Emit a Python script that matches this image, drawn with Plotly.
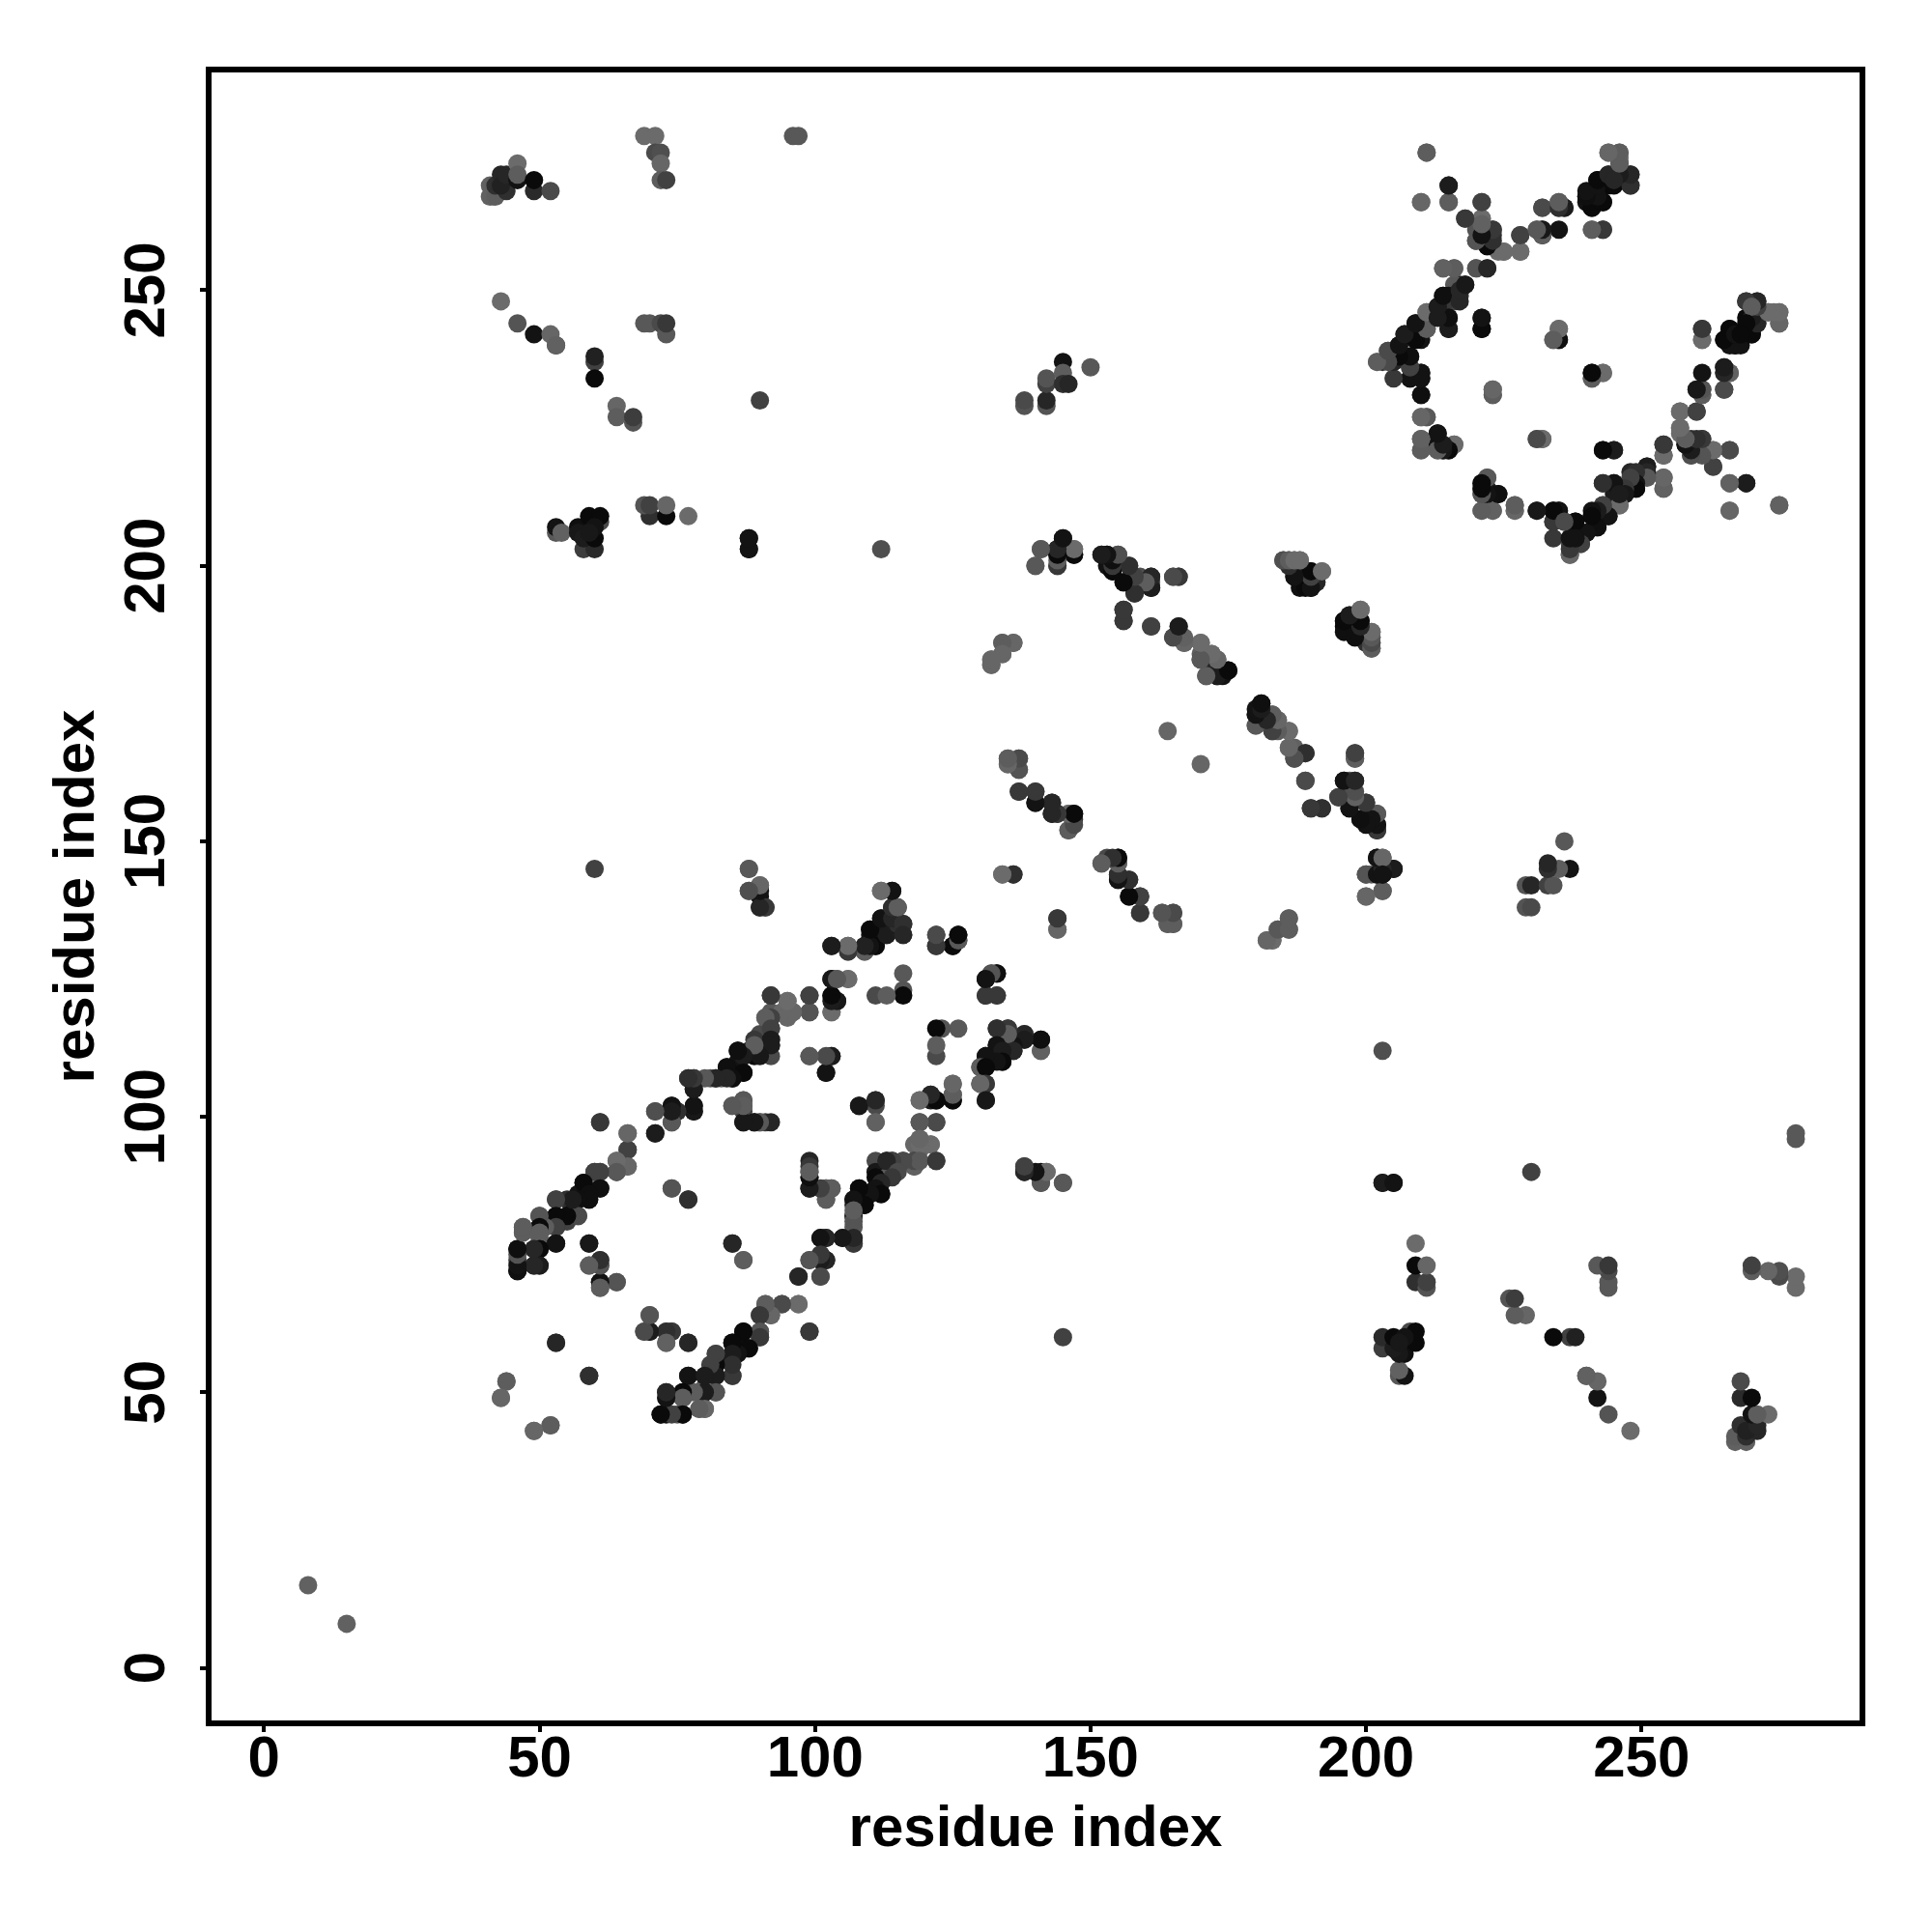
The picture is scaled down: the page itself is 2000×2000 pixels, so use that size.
import plotly.graph_objects as go

# Upper-triangle contacts (residue a, residue b, grey level of the dot); the map is symmetric.
res_a = [
 69,71,96,97,71,72,72,72,73,
 41,41,42,42,43,44,43,44,46,46,46,49,49,52,
 43,46,49,53,52,53,69,70,72,73,73,
 60,60,60,64,64,67,67,90,
 70,69,70,73,73,77,53,53,54,
 58,60,57,57,58,60,59,61,61,60,59,88,88,112,
 8,
]
res_b = [
 278,278,278,278,275,275,273,270,270,
 269,267,267,269,271,268,269,271,273,270,271,268,270,268,
 248,244,242,240,242,240,244,244,244,242,244,
 237,238,234,229,227,226,227,230,
 209,211,211,209,211,209,206,207,206,
 203,203,207,206,205,205,209,208,209,207,206,203,205,203,
 15,
]
grey = [
 105,105,85,85,70,75,100,90,60,
 95,95,90,40,30,40,25,30,105,10,90,35,0,70,
 105,80,10,40,100,95,85,85,70,85,50,
 60,25,0,100,90,80,55,60,
 40,80,60,0,100,105,85,10,95,
 55,35,5,15,20,0,0,70,0,10,15,20,10,75,
 95,
]

# Middle block
res_a += [
 141,140,144,145,144,144,145,147,147,144,
 152,153,155,154,153,154,157,156,158,159,158,161,161,161,165,166,
 156,156,161,166,165,167,170,170,170,172,173,171,172,173,174,174,175,
 185,186,187,188,187,188,189,190,190,191,192,
 197,196,196,198,199,199,198,200,201,201,201,201,
]
res_b += [
 203,200,200,205,202,203,203,202,203,203,
 202,202,202,201,200,199,200,197,198,198,195,197,196,198,198,198,
 192,190,189,189,187,186,186,184,183,184,183,180,182,180,180,181,181,
 201,201,201,201,198,196,199,196,199,197,199,
 191,189,190,190,190,192,187,186,185,186,187,188,
]
grey += [
 90,100,80,20,10,10,30,10,100,10,
 50,10,85,10,10,5,50,10,95,75,60,80,10,30,90,60,
 40,50,70,40,75,100,105,90,60,100,90,85,30,10,10,20,5,
 90,70,85,105,5,5,30,0,0,20,105,
 30,0,10,60,0,105,10,40,75,90,105,105,
]

res_a += [
 180,180,181,183,184,183,186,186,187,187,189,189,190,192,
 198,198,196,198,197,195,198,197,200,199,200,201,202,202,202,
 202,203,200,201,202,203,205,200,203,
 135,135,137,137,137,140,140,143,143,144,146,147,147,146,
 134,136,152,153,155,155,155,155,157,157,159,159,163,165,164,165,
 144,144,186,186,184,182,183,164,132,132,134,134,136,
]
res_b += [
 173,171,175,173,172,170,170,167,167,165,166,161,156,156,
 166,165,161,161,160,158,158,156,157,154,154,154,155,153,152,
 147,147,144,144,144,144,145,140,141,
 165,164,165,163,159,159,157,157,155,155,155,155,154,152,
 144,144,146,147,146,147,144,143,143,140,140,137,137,137,135,135,
 136,134,136,134,134,132,132,170,183,182,184,186,186,
]
grey += [
 20,90,0,100,105,85,105,100,95,70,20,60,50,50,
 50,70,20,30,90,40,60,0,40,0,50,5,75,10,20,
 0,105,50,90,0,30,10,85,85,
 90,90,70,80,50,60,0,40,10,40,90,0,40,90,
 100,50,90,70,100,0,50,30,30,10,50,50,80,70,100,90,
 40,105,100,90,100,100,100,100,105,100,85,90,90,
]

# Lower-left strand pair
res_a += [
 131,132,133,131,133,
 130,131,131,131,133,134,136,135,136,138,135,133,138,141,141,130,131,131,
 138,138,141,142,141,145,203,205,
 88,88,90,90,90,91,60,
 112,114,115,114,113,112,116,115,116,113,112,110,110,111,109,109,106,106,103,
 122,122,126,126,125,
 103,104,106,103,104,103,99,99,116,116,116,111,113,
]
res_b += [
 125,126,126,122,122,
 109,111,110,109,113,110,112,115,114,114,116,116,115,114,112,106,106,103,
 91,90,90,90,88,88,88,88,
 145,141,142,140,138,138,145,
 141,141,138,138,136,136,135,135,133,133,134,134,133,131,130,131,131,130,131,
 133,131,133,132,131,
 125,125,125,122,121,119,122,119,126,123,122,122,122,
]
grey += [
 0,85,0,50,70,
 90,0,10,25,20,0,10,40,30,40,40,30,90,10,105,50,105,20,
 50,30,10,100,75,85,10,10,
 85,85,105,10,30,60,60,
 95,5,30,20,10,30,50,90,40,10,20,0,10,10,90,0,50,100,15,
 50,50,5,80,10,
 0,90,100,0,30,105,70,85,85,80,0,70,90,
]

res_a += [
 95,95,96,91,92,92,92,92,92,92,90,89,89,88,87,86,86,87,84,85,82,81,83,
 77,78,78,78,78,74,74,75,71,74,71,
 61,66,66,64,66,64,61,60,61,58,57,59,57,53,55,55,53,57,55,
 50,50,47,47,50,53,53,50,49,46,46,46,49,50,
 59,61,61,59,61,61,64,74,77,
 99,99,99,99,103,102,102,102,103,99,
 108,111,111,111,119,121,121,122,125,125,125,119,122,
 119,118,119,121,122,118,118,116,114,111,113,111,113,111,108,112,109,107,107,107,107,
 101,102,105,107,107,101,99,102,101,101,97,
]
res_b += [
 121,119,119,118,118,119,122,116,114,113,115,114,111,112,111,112,110,108,109,107,107,107,107,
 107,107,105,102,101,102,101,101,101,99,97,
 99,97,94,92,91,90,90,90,87,88,86,85,85,85,85,82,82,82,81,
 82,80,80,79,78,77,80,76,76,76,74,72,73,73,
 77,74,73,73,70,69,70,87,85,
 92,90,89,87,87,87,85,108,111,111,
 102,103,102,99,103,104,103,103,103,106,104,99,99,
 96,95,94,95,92,92,91,92,92,92,92,90,89,87,87,86,84,85,84,82,80,
 78,78,78,78,77,75,74,74,74,71,71,
]
grey += [
 105,105,100,95,70,85,50,70,60,30,70,50,0,30,10,0,10,0,0,10,30,80,90,
 50,30,15,30,10,30,20,50,70,80,30,
 50,105,70,100,90,50,80,50,0,0,10,0,20,50,40,0,20,60,60,
 80,20,100,90,90,10,20,0,90,0,60,0,10,30,
 30,50,40,95,20,70,80,90,30,
 30,85,15,15,85,90,85,15,30,95,
 10,20,70,85,105,15,20,0,15,105,85,80,60,
 100,100,100,105,50,60,90,60,20,70,20,15,90,20,0,5,5,5,30,30,85,
 15,10,20,50,40,40,85,10,20,75,20,
]

res_a += [
 94,97,91,92,90,99,90,90,87,88,86,85,85,82,82,85,85,82,80,80,77,82,80,79,76,73,73,76,72,73,75,76,79,80,
 70,70,69,73,74,73,77,53,59,44,43,52,49,
 87,85,87,87,87,89,91,90,85,87,
 138,138,142,142,142,142,145,145,145,146,150,
]
res_b += [
 66,66,66,64,64,61,61,60,61,58,59,59,57,57,55,56,53,53,53,51,53,50,50,50,50,50,49,49,46,46,46,46,47,47,
 64,61,61,61,61,59,59,59,53,52,49,44,43,
 102,102,103,101,99,99,99,99,77,74,
 229,230,229,230,233,234,237,235,233,233,236,
]
grey += [
 60,100,100,105,85,50,60,60,5,0,5,5,5,70,0,20,60,0,60,90,10,80,0,90,0,20,30,30,5,10,80,5,90,90,
 80,10,90,80,40,90,15,40,30,90,100,90,100,
 90,90,90,60,20,5,50,90,40,80,
 80,70,80,30,60,80,10,90,40,30,85,
]

# Right block
res_a += [
 211,215,210,215,221,218,221,220,220,221,222,223,223,223,225,228,228,231,232,232,232,235,235,235,236,241,243,
 240,240,241,243,242,242,244,245,244,246,246,246,247,248,248,247,244,242,
 214,216,220,222,218,217,216,217,215,214,216,214,213,215,215,221,221,211,213,209,211,210,207,210,206,209,
 208,204,205,202,203,205,205,208,210,210,208,210,
 210,211,210,210,213,213,213,214,216,215,
]
res_b += [
 275,269,266,266,266,263,263,261,259,259,258,261,260,258,257,257,260,261,261,260,265,261,266,265,265,261,261,
 267,266,265,266,270,267,271,270,275,275,274,273,271,271,269,270,269,268,
 254,254,254,254,251,251,251,249,249,249,248,247,247,245,243,245,243,246,246,244,243,242,242,241,240,241,
 238,239,238,237,237,238,237,234,235,234,236,231,
 227,227,223,221,224,222,221,221,222,221,
]
grey += [
 95,20,100,95,70,60,105,80,75,20,10,50,40,90,105,105,60,90,80,15,70,10,95,30,20,105,50,
 10,10,0,0,0,10,30,20,100,105,105,105,60,30,50,90,0,0,
 95,100,105,50,20,30,85,40,10,0,60,50,15,10,40,20,0,105,20,10,60,20,5,10,10,0,
 0,60,10,100,50,10,10,50,10,0,70,15,
 100,90,95,90,5,10,80,0,85,0,
]

res_a += [
 222,221,221,221,222,224,221,223,227,227,231,234,235,234,236,234,238,237,238,237,237,239,240,241,242,243,244,243,245,246,245,247,249,248,250,251,
 254,254,254,254,243,245,231,232,223,223,235,234,235,241,243,241,
 257,260,257,257,260,261,261,265,265,265,266,261,261,
 258,259,261,259,260,263,262,263,266,266,269,266,275,
 265,266,267,267,268,269,270,269,269,271,271,271,270,273,275,275,
]
res_b += [
 216,215,214,213,214,213,210,210,211,210,210,210,210,208,208,205,208,205,206,204,202,204,206,209,207,211,209,215,215,211,213,213,214,217,217,218,
 216,214,220,222,221,221,223,223,232,231,243,241,241,235,235,234,
 228,228,225,224,232,232,231,232,236,235,235,243,241,
 222,223,223,220,221,221,221,218,221,215,215,210,211,
 241,243,242,240,240,242,242,245,248,248,246,244,245,246,246,244,
]
grey += [
 105,0,15,90,20,10,90,95,85,100,5,10,10,10,60,50,5,30,0,70,90,70,10,0,20,90,10,20,5,105,20,20,5,30,30,15,
 90,95,80,30,0,10,90,100,105,70,105,90,0,5,105,90,
 105,60,105,105,90,15,85,70,20,40,90,50,90,
 0,40,50,80,10,105,95,50,60,90,20,100,90,
 0,0,10,5,10,10,0,0,40,30,20,30,30,90,90,100,
]

x_ticks = [0, 50, 100, 150, 200, 250]
axis_title = "residue index"

n = len(res_a)
assert len(res_b) == n and len(grey) == n, (n, len(res_b), len(grey))

# mirror across the diagonal; lift the darkest shades slightly
xs = res_a + res_b
ys = res_b + res_a
shades = [round(10 + g * 0.92) for g in grey + grey]
colors = [f"rgb({g},{g},{g})" for g in shades]

FONT = dict(family="Liberation Sans", size=60, color="black", weight="bold")

fig = go.Figure(go.Scatter(x=xs, y=ys, mode="markers",
                           marker=dict(size=19, color=colors, line=dict(width=0)),
                           hoverinfo="skip"))
axis = dict(tickmode="array", tickvals=x_ticks,
            ticktext=[str(t) for t in x_ticks], ticks="outside", ticklen=6, tickwidth=4,
            tickcolor="black", tickfont=FONT, showgrid=False, zeroline=False,
            showline=True, linecolor="black", linewidth=6, mirror=True)
fig.update_xaxes(**axis, range=[-9.52, 289.57], ticklabelstandoff=-26,
                 title=dict(text=axis_title, font=FONT, standoff=20))
fig.update_yaxes(**axis, range=[-9.55, 289.53], tickangle=-90, ticklabelstandoff=13, ticklabelshift=9,
                 title=dict(text=axis_title, font=FONT, standoff=1))
fig.update_layout(width=2000, height=2000, autosize=False, showlegend=False,
                  paper_bgcolor="white", plot_bgcolor="white",
                  margin=dict(l=219, r=75, t=75, b=219, autoexpand=False))
fig.write_html("out.html", config=dict(displayModeBar=False),
               post_script="document.body.style.margin='0';")
